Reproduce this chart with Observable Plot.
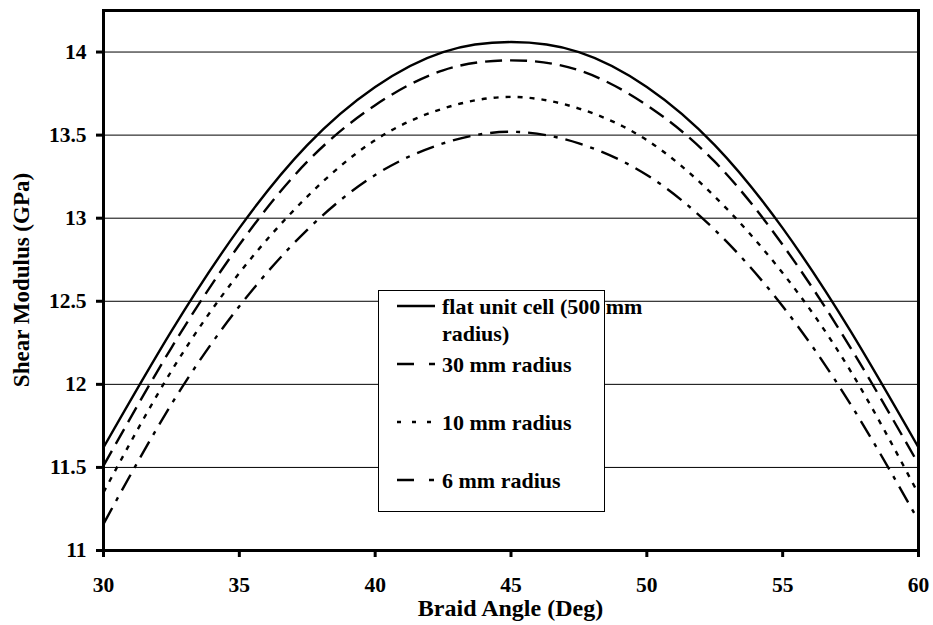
<!DOCTYPE html>
<html>
<head>
<meta charset="utf-8">
<script src="https://cdn.jsdelivr.net/npm/d3@7"></script>
<script src="https://cdn.jsdelivr.net/npm/@observablehq/plot@0.6"></script>
<style>
  html, body { margin: 0; padding: 0; background: #fff; }
  #chart { width: 933px; height: 625px; }
  #chart svg g[aria-label="x-axis tick label"], #chart svg g[aria-label="y-axis tick label"] { font-size: 21.5px !important; }
  #chart svg g[aria-label="x-axis tick label"] text, #chart svg g[aria-label="y-axis tick label"] text { font-size: 21.5px !important; font-weight: bold; }
</style>
</head>
<body>
<div id="chart"></div>
<script>
const angles = [30, 32.5, 35, 37.5, 40, 42.5, 45, 47.5, 50, 52.5, 55, 57.5, 60];
const flatCell = [11.62, 12.32, 12.94, 13.44, 13.79, 14.00, 14.06, 14.00, 13.79, 13.44, 12.94, 12.32, 11.62];
const radius30 = [11.51, 12.22, 12.84, 13.34, 13.68, 13.89, 13.95, 13.89, 13.68, 13.34, 12.84, 12.22, 11.52];
const radius10 = [11.35, 12.08, 12.67, 13.13, 13.47, 13.66, 13.73, 13.66, 13.47, 13.13, 12.67, 12.08, 11.34];
const radius6  = [11.16, 11.88, 12.47, 12.93, 13.26, 13.45, 13.52, 13.45, 13.26, 12.93, 12.47, 11.88, 11.18];
const seriesNames = ["flat unit cell (500 mm radius)", "30 mm radius", "10 mm radius", "6 mm radius"];
const legendLines = [["flat unit cell (500 mm", "radius)"], ["30 mm radius"], ["10 mm radius"], ["6 mm radius"]];
const xTicks = [30, 35, 40, 45, 50, 55, 60];
const yTicks = [11, 11.5, 12, 12.5, 13, 13.5, 14];
const gridValues = [11.5, 12, 12.5, 13, 13.5, 14];
const xTitle = "Braid Angle (Deg)";
const yTitle = "Shear Modulus (GPa)";

const seriesValues = [flatCell, radius30, radius10, radius6];
const dashes = [null, "17,8", "5,7", "18,8,4,8"];
const legendDashes = [null, "17,15", "4,11", "17,15,5,20"];
const tables = seriesValues.map((vals, i) => angles.map((a, j) => ({angle: a, g: vals[j], series: seriesNames[i]})));

const font = "'Liberation Serif', 'Times New Roman', serif";

const chart = Plot.plot({
  width: 933,
  height: 625,
  marginLeft: 103,
  marginRight: 15,
  marginTop: 10,
  marginBottom: 75,
  style: {fontFamily: font, fontSize: "21.5px", fontWeight: "bold", background: "#fff", color: "#000", overflow: "visible"},
  x: {domain: [30, 60], label: null},
  y: {domain: [11, 14.25], label: null},
  marks: [
    Plot.ruleY(gridValues, {stroke: "#000", strokeWidth: 1}),
    ...tables.map((t, i) => Plot.line(t, {
      x: "angle", y: "g", curve: "natural", stroke: "#000", strokeWidth: 2.4,
      strokeDasharray: dashes[i] || undefined, strokeLinecap: "butt"
    })),
    Plot.frame({stroke: "#000", strokeWidth: 3}),
    Plot.axisX({ticks: xTicks, tickSize: 7, tickPadding: 19, strokeWidth: 3, tickFormat: d => String(d), label: null}),
    Plot.axisY({ticks: yTicks, tickSize: 7, tickPadding: 10, strokeWidth: 3, tickFormat: d => String(d), label: null})
  ]
});

document.getElementById("chart").appendChild(chart);

const sx = chart.scale("x"), sy = chart.scale("y");
const svg = d3.select(chart);
const xmid = (sx.apply(30) + sx.apply(60)) / 2;
const ymid = (sy.apply(11) + sy.apply(14.25)) / 2;

// Axis titles
svg.append("text").attr("x", xmid).attr("y", 616).attr("text-anchor", "middle")
  .attr("font-family", font).attr("font-weight", "bold").attr("font-size", 24).attr("fill", "#000").text(xTitle);
svg.append("text").attr("transform", `translate(29,${ymid}) rotate(-90)`).attr("text-anchor", "middle")
  .attr("font-family", font).attr("font-weight", "bold").attr("font-size", 23).attr("fill", "#000").text(yTitle);

// Legend box drawn inside the plot area
const lg = svg.append("g").attr("font-family", font).attr("font-weight", "bold").attr("font-size", 22).attr("text-anchor", "start");
lg.append("rect").attr("x", 378.5).attr("y", 290.5).attr("width", 226).attr("height", 221)
  .attr("fill", "#fff").attr("stroke", "#000").attr("stroke-width", 1);
const rowY = [{sy: 306, ty: 314}, {sy: 364, ty: 372}, {sy: 422, ty: 430}, {sy: 480, ty: 488}];
rowY.forEach((r, i) => {
  const l = lg.append("line").attr("x1", 397).attr("x2", 435).attr("y1", r.sy).attr("y2", r.sy)
    .attr("stroke", "#000").attr("stroke-width", 2.4);
  if (legendDashes[i]) l.attr("stroke-dasharray", legendDashes[i]);
  legendLines[i].forEach((txt, k) => {
    lg.append("text").attr("x", 442).attr("y", r.ty + k * 27).attr("fill", "#000").attr("text-anchor", "start").text(txt);
  });
});
</script>
</body>
</html>
